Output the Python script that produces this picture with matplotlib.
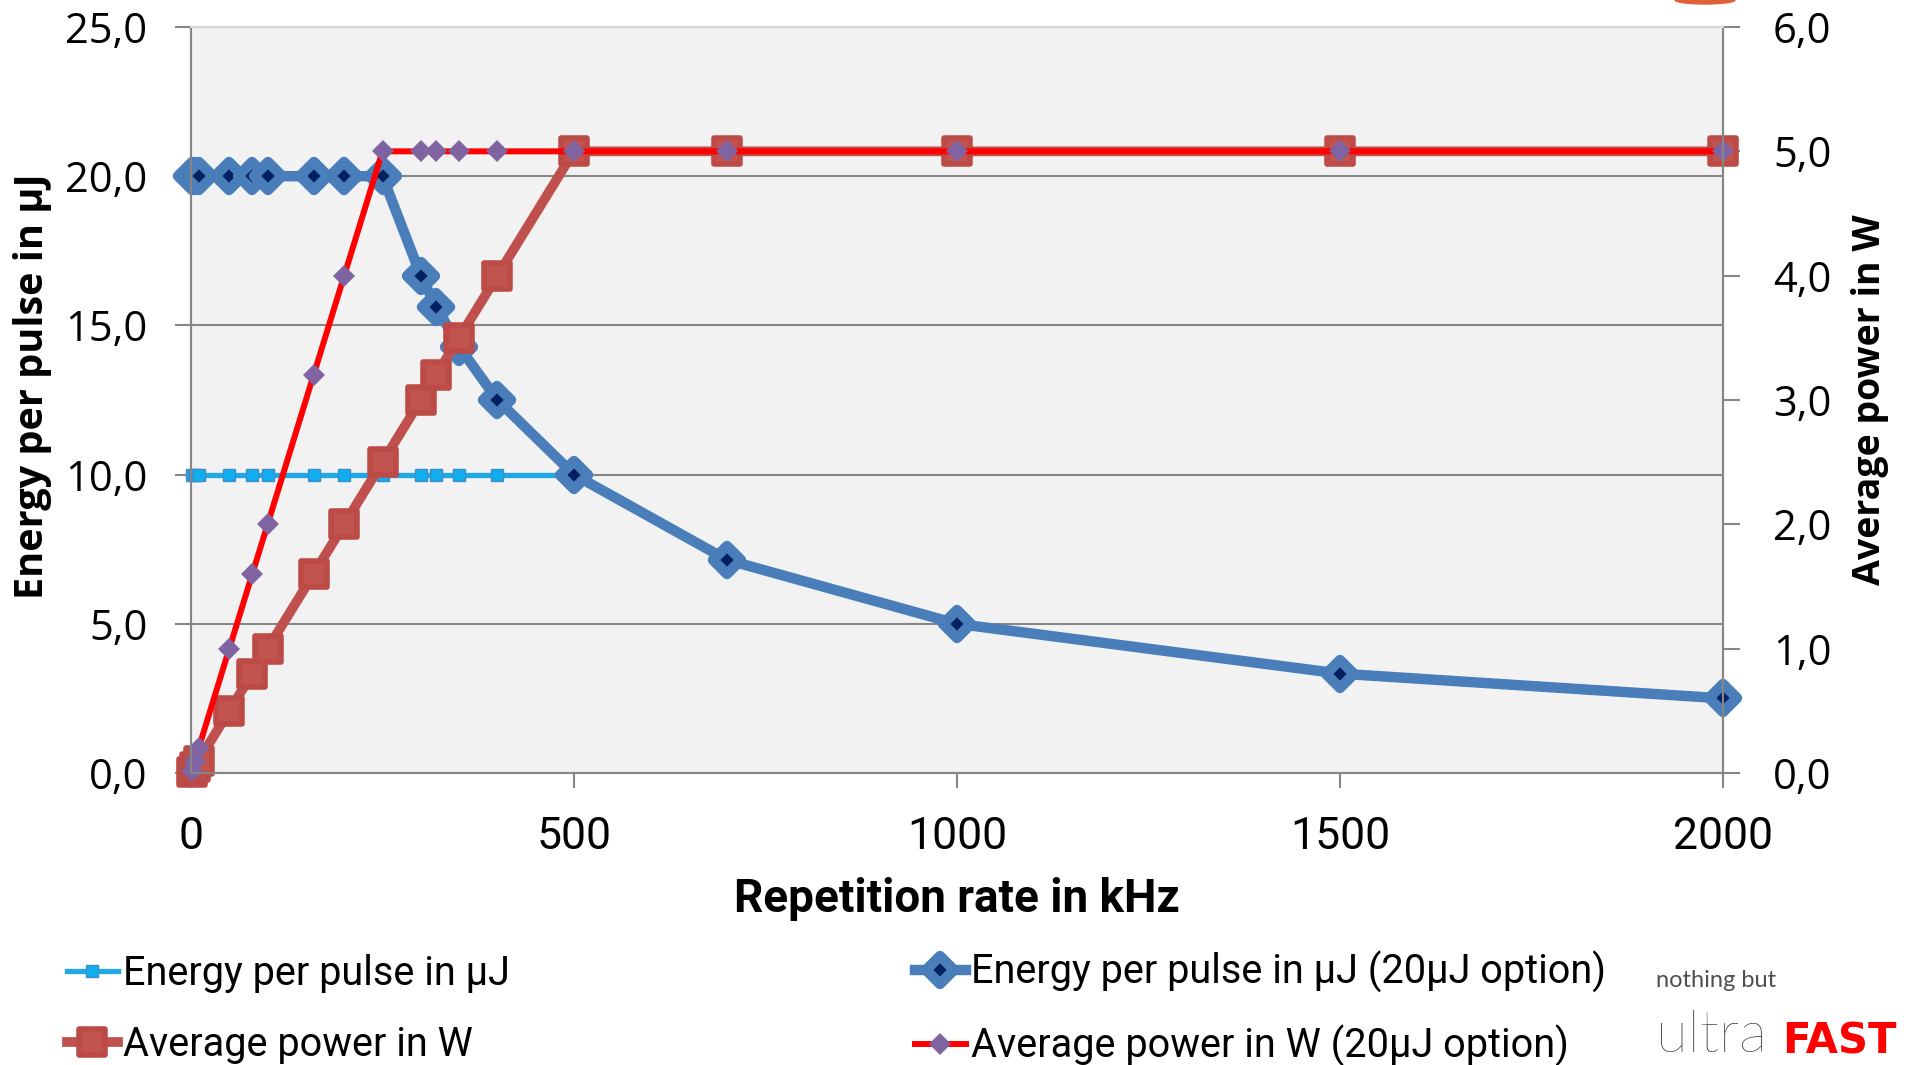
import matplotlib
matplotlib.use("Agg")
import matplotlib.pyplot as plt
from matplotlib.markers import MarkerStyle
from matplotlib.ticker import FuncFormatter
import matplotlib.patches as mpatches

# repetition rates in kHz
rate = [1, 5, 10, 50, 80, 100, 160, 200, 250, 300, 320, 350, 400, 500, 700, 1000, 1500, 2000]
rate_std_e = [1, 5, 10, 50, 80, 100, 160, 200, 250, 300, 320, 350, 400, 500]

energy_std = [10.0, 10.0, 10.0, 10.0, 10.0, 10.0, 10.0, 10.0, 10.0, 10.0, 10.0, 10.0, 10.0, 10.0]
energy_20 = [20.0, 20.0, 20.0, 20.0, 20.0, 20.0, 20.0, 20.0, 20.0, 16.67, 15.63, 14.29, 12.5,
             10.0, 7.14, 5.0, 3.33, 2.5]
power_std = [0.01, 0.05, 0.1, 0.5, 0.8, 1.0, 1.6, 2.0, 2.5, 3.0, 3.2, 3.5, 4.0, 5.0, 5.0, 5.0, 5.0, 5.0]
power_20 = [0.02, 0.1, 0.2, 1.0, 1.6, 2.0, 3.2, 4.0, 5.0, 5.0, 5.0, 5.0, 5.0, 5.0, 5.0, 5.0, 5.0, 5.0]

x_ticks = [0, 500, 1000, 1500, 2000]
y1_ticks = [0, 5, 10, 15, 20, 25]
y2_ticks = [0, 1, 2, 3, 4, 5, 6]

labels = ['Energy per pulse in µJ', 'Average power in W',
          'Energy per pulse in µJ (20µJ option)', 'Average power in W (20µJ option)']

NARROW = ['Roboto', 'DejaVu Sans']
OPEN = ['Open Sans', 'DejaVu Sans']
GRAY = '#868686'

fig = plt.figure(figsize=(19.09, 10.65), dpi=100)
ax = fig.add_axes([191 / 1909, 1 - 773 / 1065, 1532 / 1909, 746 / 1065])
ax2 = ax.twinx()

ax.set_facecolor('#F2F2F2')
ax.set_xlim(0, 2000)
ax.set_ylim(0, 25)
ax2.set_ylim(0, 6)
ax.set_axisbelow(True)
ax.grid(axis='y', color=GRAY, lw=1.5)
ax.grid(axis='x', visible=False)

diamond = MarkerStyle('D', joinstyle='round')
square = MarkerStyle('s', joinstyle='round')

l1, = ax.plot(rate_std_e, energy_std, color='#1FA8E4', lw=3.8, marker='s', ms=9,
              mfc='#10AEEF', mec='#3F8CCB', mew=1, clip_on=False)
l3, = ax.plot(rate, energy_20, color='#4A7EBB', lw=7.5, marker=diamond, ms=14.5,
              mfc='#002060', mec='#4A7EBB', mew=7.5, clip_on=False)
l2, = ax2.plot(rate, power_std, color='#C0504D', lw=7, marker=square, ms=19,
               mfc='#C25450', mec='#BC4B47', mew=4, clip_on=False)
l4, = ax2.plot(rate, power_20, color='#FF0000', lw=4.3, marker='D', ms=11,
               mfc='#8064A2', mec='#8064A2', mew=0, clip_on=False)

comma = FuncFormatter(lambda v, p: f'{v:.1f}'.replace('.', ','))
ax.set_xticks(x_ticks)
ax.set_yticks(y1_ticks)
ax2.set_yticks(y2_ticks)
ax.yaxis.set_major_formatter(comma)
ax2.yaxis.set_major_formatter(comma)

for a in (ax, ax2):
    for s in a.spines.values():
        s.set_color(GRAY)
        s.set_linewidth(1.5)
    a.spines['top'].set_color('#D9D9D9')
ax.tick_params(axis='y', direction='out', length=11.5, width=1.5, color=GRAY, pad=20)
ax2.tick_params(axis='y', direction='out', length=12, width=1.5, color=GRAY, pad=24)
ax.tick_params(axis='x', direction='out', length=11, width=1.5, color=GRAY, pad=20)
for t in ax.get_yticklabels() + ax2.get_yticklabels():
    t.set_fontfamily(OPEN)
    t.set_fontsize(30)
for t in ax.get_xticklabels():
    t.set_fontfamily(NARROW)
    t.set_fontsize(32)

fig.text(33 / 1909, 1 - 386 / 1065, 'Energy per pulse in µJ', rotation=90, ha='center', va='center',
         fontsize=28.5, fontweight='bold', family=OPEN)
fig.text(1870 / 1909, 1 - 400 / 1065, 'Average power in W', rotation=90, ha='center', va='center',
         fontsize=27, fontweight='bold', family=OPEN)
fig.text(957 / 1909, 1 - 899 / 1065, 'Repetition rate in kHz', ha='center', va='center',
         fontsize=33, fontweight='bold', family=NARROW)

leg_kw = dict(loc='center left', frameon=False, borderpad=0, borderaxespad=0,
              handlelength=1.28, handletextpad=0.13, labelspacing=0.8,
              prop={'family': NARROW, 'size': 28.5})
fig.legend([l1, l2], labels[:2], bbox_to_anchor=(67 / 1909, 1 - 1009 / 1065), **leg_kw)
fig.legend([l3, l4], labels[2:], bbox_to_anchor=(915 / 1909, 1 - 1009 / 1065), **leg_kw)

# logo
fig.text(1656 / 1909, 1 - 987 / 1065, 'nothing but', fontsize=17, color='#505050',
         family=['Lato', 'DejaVu Sans'], va='baseline')
fig.text(1656 / 1909, 1 - 1052 / 1065, 'ultra', fontsize=42, color='#111111',
         family=['Lato', 'DejaVu Sans'], fontweight='light', va='baseline')
fig.text(1782 / 1909, 1 - 1053 / 1065, 'FAST', fontsize=30, color='#FF0000',
         family='DejaVu Sans', fontweight='bold', va='baseline')
fig.patches.append(mpatches.Ellipse((1705 / 1909, 1.0), 60 / 1909, 8 / 1065,
                                    transform=fig.transFigure, color='#E0603A'))

fig.savefig('out.png', dpi=100)
